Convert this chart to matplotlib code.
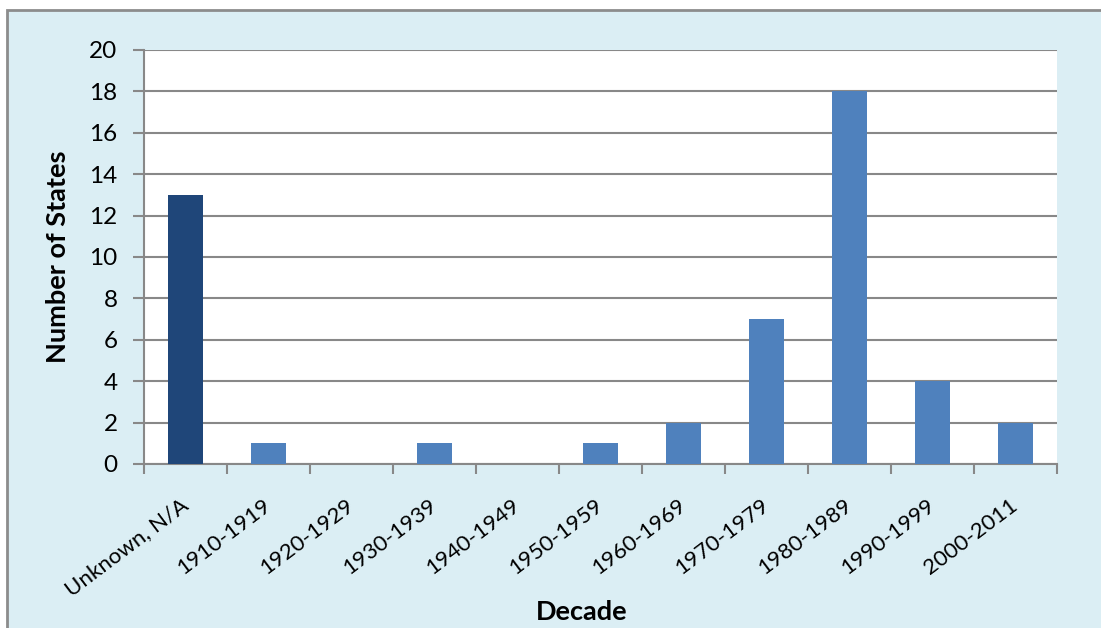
import numpy as np
import matplotlib.pyplot as plt
import matplotlib.transforms as mtransforms
from matplotlib.patches import Rectangle

plt.rcParams['font.family'] = ['Lato', 'DejaVu Sans']

decades = ["Unknown, N/A", "1910-1919", "1920-1929", "1930-1939", "1940-1949",
           "1950-1959", "1960-1969", "1970-1979", "1980-1989", "1990-1999", "2000-2011"]
states = [13, 1, 0, 1, 0, 1, 2, 7, 18, 4, 2]
bar_colors = ['#1F4679'] + ['#4F81BD'] * (len(decades) - 1)

fig = plt.figure(figsize=(11.01, 6.28), dpi=100)
fig.patch.set_facecolor('white')

# light blue chart area with grey frame on the left/top
fig.patches.append(Rectangle((7 / 1101, -0.1), 1.2, 1.1 - 10 / 628,
                             transform=fig.transFigure, facecolor='#DBEEF4',
                             edgecolor='#8C8C8C', linewidth=2, zorder=-1))

ax = fig.add_axes([144 / 1101, 1 - 464 / 628, (1057 - 144) / 1101, (464 - 50) / 628])
ax.set_facecolor('white')

x = np.arange(len(decades))
ax.bar(x, states, width=0.41, color=bar_colors, zorder=3)

ax.set_xlim(-0.5, len(decades) - 0.5)
ax.set_ylim(0, 20)
ax.set_yticks(range(0, 21, 2))
ax.yaxis.grid(True, color='#888888', linewidth=1.5, zorder=0)

ax.set_xticks(x)
ax.set_xticklabels(decades, rotation=37, ha='right', va='center', rotation_mode='anchor')
shift = mtransforms.ScaledTranslation(-3 / 100, 0, fig.dpi_scale_trans)
for lbl in ax.get_xticklabels():
    lbl.set_transform(lbl.get_transform() + shift)
ax.set_xticks(np.arange(-0.5, len(decades)), minor=True)
ax.tick_params(axis='x', which='major', length=0, pad=28, labelsize=16)
ax.tick_params(axis='x', which='minor', length=7, width=1.5, color='#888888')
ax.tick_params(axis='y', length=8, width=1.5, color='#888888', labelsize=17.5, pad=11)

for side in ['top', 'right']:
    ax.spines[side].set_visible(False)
for side in ['left', 'bottom']:
    ax.spines[side].set_color('#888888')
    ax.spines[side].set_linewidth(1.5)

ax.set_ylabel("Number of States", fontsize=19.5, fontweight='bold', labelpad=14)
fig.text(582 / 1101, 1 - 612 / 628, "Decade", fontsize=19.5, fontweight='bold',
         ha='center', va='center')

fig.savefig("out.png", dpi=100)
